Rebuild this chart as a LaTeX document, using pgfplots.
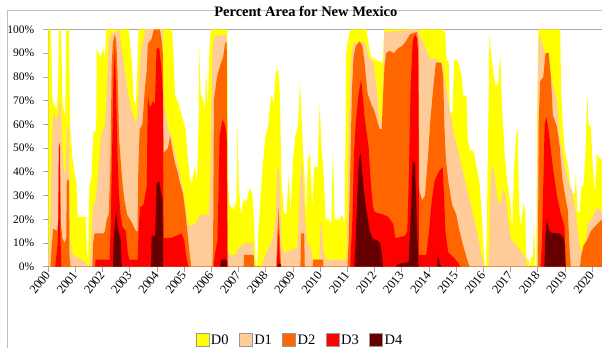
\documentclass[border=0pt]{standalone}
\usepackage{fontspec}
\setmainfont{Liberation Serif}
\usepackage{pgfplots}
\pgfplotsset{compat=1.18}
\definecolor{dzero}{HTML}{FFFF00}
\definecolor{done}{HTML}{FFCC99}
\definecolor{dtwo}{HTML}{FF6600}
\definecolor{dthree}{HTML}{FF0000}
\definecolor{dfour}{HTML}{660000}
\definecolor{framegray}{HTML}{BFBFBF}
\definecolor{axgray}{HTML}{A6A6A6}
\begin{document}
\begin{tikzpicture}
\useasboundingbox (0pt,0pt) rectangle (602pt,348pt);
\clip (0pt,0pt) rectangle (602pt,348pt);
\draw[framegray, line width=0.8pt] (7pt,0pt) -- (7pt,338pt) -- (605pt,338pt);
\begin{axis}[
  at={(48.3pt,81.3pt)}, anchor=south west,
  scale only axis, width=556.2pt, height=237.2pt,
  xmin=2000, xmax=2020.45, ymin=0, ymax=100,
  axis line style={axgray, line width=0.8pt},
  tick style={axgray, line width=0.8pt},
  tick align=outside, major tick length=5pt,
  xtick pos=bottom, ytick pos=left,
  xtick={2000,2001,...,2020},
  ytick={0,10,...,100},
  /pgf/number format/assume math mode=true,
  /pgf/number format/1000 sep={},
  xticklabel={\pgfmathprintnumber{\tick}},
  yticklabel={\pgfmathprintnumber{\tick}\%},
  yticklabel style={font=\fontsize{11.5}{11.5}\selectfont, inner sep=1pt, xshift=-8pt},
  xticklabel style={font=\fontsize{12.5}{12.5}\selectfont, rotate=52, anchor=east, inner sep=1pt},
  title={Percent Area for New Mexico},
  title style={at={(0.463,1)}, anchor=center, yshift=12.5pt, font=\bfseries\fontsize{14.5}{14.5}\selectfont},
  legend columns=5,
  legend style={at={(0.452,-0.310)}, anchor=center, draw=none, fill=none,
    font=\fontsize{14.5}{14.5}\selectfont,
    /tikz/every even column/.append style={column sep=9pt},
    nodes={inner xsep=1.5pt, inner ysep=0pt}},
  legend image code/.code={\draw[#1, draw=gray!80, line width=0.7pt] (0pt,-6.5pt) rectangle (13pt,6.5pt);},
]
\addplot[fill=dzero, draw=none] coordinates {
(2000.00,100)(2000.10,100)(2000.15,70)(2000.30,66)(2000.36,75)(2000.39,100)(2000.47,100)(2000.52,70)(2000.62,62)(2000.66,100)(2000.76,100)(2000.80,60)(2000.88,47)(2000.96,40)(2001.04,34)(2001.08,21)(2001.38,21)(2001.42,6)(2001.47,4)(2001.51,34)(2001.58,37)(2001.66,57)(2001.76,57)(2001.78,92)(2001.85,90)(2001.93,88)(2002.00,92)(2002.08,88)(2002.13,100)(2002.95,100)(2003.00,95)(2003.08,85)(2003.14,70)(2003.22,68)(2003.28,85)(2003.32,100)(2004.55,100)(2004.60,90)(2004.66,72)(2004.75,70)(2004.85,66)(2004.95,62)(2005.05,58)(2005.12,47)(2005.20,38)(2005.28,35)(2005.38,42)(2005.47,36)(2005.53,63)(2005.56,94)(2005.60,73)(2005.70,70)(2005.76,66)(2005.80,84)(2005.86,66)(2005.92,90)(2005.96,98)(2006.00,100)(2006.58,100)(2006.61,35)(2006.66,26)(2006.80,24)(2006.92,28)(2006.96,61)(2007.00,35)(2007.08,22)(2007.18,28)(2007.30,28)(2007.40,33)(2007.50,31)(2007.56,20)(2007.62,2)(2007.68,0)(2007.72,15)(2007.80,28)(2007.88,42)(2007.98,55)(2008.08,59)(2008.15,68)(2008.22,73)(2008.28,68)(2008.36,82)(2008.46,83)(2008.52,72)(2008.57,37)(2008.66,23)(2008.76,22)(2008.84,39)(2008.90,22)(2009.00,45)(2009.08,55)(2009.18,59)(2009.25,78)(2009.31,62)(2009.37,48)(2009.43,35)(2009.48,21)(2009.54,45)(2009.62,48)(2009.70,25)(2009.78,42)(2009.90,42)(2009.98,69)(2010.04,50)(2010.12,40)(2010.20,20)(2010.30,20)(2010.40,18)(2010.47,49)(2010.53,20)(2010.70,20)(2010.80,22)(2010.90,18)(2010.95,90)(2011.00,94)(2011.06,98)(2011.12,100)(2011.70,100)(2011.80,92)(2011.88,88)(2012.30,86)(2012.35,100)(2014.55,100)(2014.60,98)(2014.64,87)(2014.72,87)(2014.76,65)(2014.86,65)(2014.92,87)(2015.05,87)(2015.12,84)(2015.20,80)(2015.26,72)(2015.38,72)(2015.42,54)(2015.50,49)(2015.60,49)(2015.67,47)(2015.76,41)(2015.86,35)(2015.93,23)(2015.99,10)(2016.05,0)(2016.10,0)(2016.16,45)(2016.22,98)(2016.28,90)(2016.36,82)(2016.45,76)(2016.55,78)(2016.62,90)(2016.68,68)(2016.78,48)(2016.88,35)(2016.98,28)(2017.06,15)(2017.12,40)(2017.20,55)(2017.26,58)(2017.31,23)(2017.38,17)(2017.47,27)(2017.54,23)(2017.57,3)(2017.64,4)(2017.70,0)(2017.76,4)(2017.82,4)(2017.86,21)(2017.90,0)(2017.94,0)(2017.98,70)(2018.02,100)(2018.82,100)(2018.86,73)(2018.92,59)(2019.00,48)(2019.12,42)(2019.22,31)(2019.36,31)(2019.40,40)(2019.46,23)(2019.54,23)(2019.60,34)(2019.68,34)(2019.74,45)(2019.82,72)(2019.87,60)(2019.95,59)(2020.02,42)(2020.10,31)(2020.17,48)(2020.24,46)(2020.36,45)
} \closedcycle;
\addlegendentry{D0}
\addplot[fill=done, draw=none] coordinates {
(2000.00,0)(2000.06,12)(2000.12,45)(2000.18,65)(2000.30,62)(2000.36,64)(2000.40,70)(2000.46,68)(2000.52,50)(2000.58,40)(2000.64,40)(2000.68,58)(2000.75,60)(2000.79,15)(2000.84,6)(2001.05,4)(2001.38,2)(2001.42,0)(2001.50,0)(2001.56,6)(2001.64,25)(2001.74,28)(2001.80,35)(2001.87,45)(2001.94,55)(2002.02,58)(2002.08,60)(2002.15,75)(2002.22,95)(2002.30,98)(2002.60,100)(2002.66,95)(2002.75,88)(2002.85,80)(2002.95,72)(2003.05,66)(2003.15,63)(2003.22,60)(2003.28,65)(2003.32,75)(2003.40,90)(2003.52,97)(2003.58,100)(2004.21,100)(2004.24,70)(2004.32,64)(2004.42,58)(2004.52,55)(2004.62,50)(2004.72,45)(2004.82,40)(2004.92,34)(2005.02,28)(2005.10,20)(2005.18,17)(2005.40,18)(2005.50,20)(2005.60,22)(2005.90,22)(2005.96,40)(2006.00,70)(2006.04,92)(2006.10,97)(2006.55,98)(2006.59,8)(2006.66,5)(2006.90,5)(2007.00,8)(2007.15,9)(2007.22,10)(2007.52,10)(2007.58,2)(2007.62,0)(2007.85,0)(2007.95,4)(2008.10,8)(2008.25,12)(2008.35,20)(2008.42,40)(2008.48,42)(2008.53,28)(2008.58,8)(2008.70,6)(2009.15,8)(2009.22,25)(2009.28,40)(2009.33,45)(2009.40,30)(2009.46,18)(2009.52,10)(2009.66,8)(2009.72,3)(2009.96,3)(2010.00,15)(2010.05,20)(2010.10,8)(2010.20,3)(2010.95,3)(2010.98,10)(2011.02,30)(2011.06,60)(2011.10,80)(2011.16,90)(2011.22,94)(2011.60,95)(2011.70,92)(2011.80,88)(2011.95,86)(2012.05,78)(2012.12,70)(2012.18,60)(2012.25,62)(2012.30,70)(2012.35,99)(2013.62,100)(2013.66,97)(2013.80,94)(2013.95,90)(2014.05,87)(2014.20,88)(2014.40,86)(2014.52,85)(2014.56,80)(2014.62,76)(2014.70,70)(2014.80,64)(2014.95,54)(2015.05,50)(2015.20,42)(2015.35,35)(2015.50,28)(2015.65,20)(2015.80,13)(2015.92,5)(2016.00,2)(2016.04,0)(2016.18,0)(2016.22,10)(2016.28,40)(2016.36,43)(2016.44,36)(2016.52,28)(2016.62,26)(2016.72,33)(2016.82,30)(2016.92,18)(2017.00,12)(2017.20,9)(2017.40,6)(2017.54,4)(2017.60,0)(2017.96,0)(2018.00,80)(2018.04,98)(2018.10,96)(2018.22,92)(2018.34,84)(2018.50,79)(2018.64,73)(2018.72,68)(2018.80,55)(2018.90,48)(2019.00,42)(2019.12,36)(2019.26,32)(2019.38,24)(2019.48,14)(2019.56,8)(2019.62,4)(2019.72,3)(2019.78,12)(2019.84,18)(2019.95,20)(2020.05,22)(2020.20,25)(2020.36,23)
} \closedcycle;
\addlegendentry{D1}
\addplot[fill=dtwo, draw=none] coordinates {
(2000.00,0)(2000.08,0)(2000.12,8)(2000.18,16)(2000.32,15)(2000.38,20)(2000.40,52)(2000.43,52)(2000.46,18)(2000.52,12)(2000.60,10)(2000.66,12)(2000.68,36)(2000.76,37)(2000.78,4)(2000.82,0)(2001.62,0)(2001.65,10)(2001.70,14)(2002.02,14)(2002.08,15)(2002.15,20)(2002.22,22)(2002.28,40)(2002.33,85)(2002.38,95)(2002.45,98)(2002.50,95)(2002.55,80)(2002.60,55)(2002.66,45)(2002.72,36)(2002.80,28)(2002.90,22)(2003.00,20)(2003.10,18)(2003.22,15)(2003.28,15)(2003.31,42)(2003.36,58)(2003.46,60)(2003.55,75)(2003.62,83)(2003.66,94)(2003.80,96)(2003.88,100)(2004.10,100)(2004.16,96)(2004.21,90)(2004.24,48)(2004.40,50)(2004.48,55)(2004.55,50)(2004.65,44)(2004.75,40)(2004.85,35)(2004.95,31)(2005.05,22)(2005.12,14)(2005.20,5)(2005.26,0)(2006.03,0)(2006.06,10)(2006.09,70)(2006.20,80)(2006.32,85)(2006.42,88)(2006.50,94)(2006.56,95)(2006.59,2)(2006.62,0)(2007.18,0)(2007.20,5)(2007.55,5)(2007.57,0)(2008.38,0)(2008.42,14)(2008.47,25)(2008.52,10)(2008.56,0)(2009.27,0)(2009.29,14)(2009.41,14)(2009.43,0)(2009.72,0)(2009.74,3)(2010.10,3)(2010.12,0)(2011.00,0)(2011.04,10)(2011.10,40)(2011.16,73)(2011.22,88)(2011.30,93)(2011.45,95)(2011.55,93)(2011.62,87)(2011.68,80)(2011.74,73)(2011.86,69)(2011.98,66)(2012.08,62)(2012.18,58)(2012.26,58)(2012.32,75)(2012.36,84)(2012.42,90)(2012.55,91)(2012.70,90)(2012.85,92)(2013.00,93)(2013.15,95)(2013.30,98)(2013.55,99)(2013.61,95)(2013.64,32)(2013.75,28)(2013.85,30)(2013.95,45)(2014.05,62)(2014.15,75)(2014.25,86)(2014.45,86)(2014.52,80)(2014.56,60)(2014.62,45)(2014.72,35)(2014.85,26)(2015.00,22)(2015.10,16)(2015.25,9)(2015.35,5)(2015.45,1)(2015.50,0)(2018.00,0)(2018.03,60)(2018.08,78)(2018.20,80)(2018.28,90)(2018.40,90)(2018.48,80)(2018.55,64)(2018.70,59)(2018.80,51)(2018.90,37)(2019.00,30)(2019.10,24)(2019.17,6)(2019.21,0)(2019.55,0)(2019.60,5)(2019.68,9)(2019.80,11)(2019.95,15)(2020.10,17)(2020.36,20)
} \closedcycle;
\addlegendentry{D2}
\addplot[fill=dthree, draw=none] coordinates {
(2000.00,0)(2000.26,0)(2000.30,5)(2000.36,12)(2000.39,51)(2000.42,51)(2000.45,12)(2000.48,0)(2001.72,0)(2001.74,3)(2002.25,3)(2002.30,20)(2002.34,45)(2002.40,82)(2002.45,93)(2002.50,70)(2002.55,45)(2002.60,30)(2002.66,22)(2002.72,17)(2002.85,15)(2002.92,6)(2002.98,3)(2003.28,3)(2003.32,15)(2003.37,25)(2003.50,26)(2003.62,34)(2003.66,72)(2003.74,67)(2003.86,70)(2003.92,68)(2003.98,92)(2004.08,92)(2004.16,84)(2004.21,73)(2004.24,12)(2004.50,12)(2004.70,13)(2004.90,14)(2005.00,11)(2005.06,5)(2005.15,0)(2006.08,0)(2006.12,5)(2006.22,11)(2006.30,55)(2006.40,62)(2006.50,60)(2006.56,55)(2006.59,0)(2008.40,0)(2008.43,8)(2008.47,15)(2008.51,3)(2008.54,0)(2011.10,0)(2011.18,20)(2011.24,48)(2011.30,60)(2011.40,72)(2011.50,79)(2011.56,72)(2011.62,64)(2011.70,57)(2011.78,50)(2011.86,35)(2011.94,25)(2012.00,23)(2012.30,22)(2012.50,21)(2012.68,18)(2012.76,12)(2013.10,13)(2013.20,15)(2013.26,40)(2013.32,76)(2013.40,95)(2013.48,98)(2013.55,96)(2013.60,90)(2013.63,5)(2013.90,5)(2014.00,15)(2014.10,28)(2014.20,36)(2014.35,40)(2014.50,42)(2014.55,30)(2014.60,15)(2014.70,6)(2014.90,4)(2015.05,2)(2015.15,0)(2018.10,0)(2018.15,10)(2018.25,60)(2018.32,63)(2018.42,55)(2018.55,42)(2018.70,30)(2018.85,22)(2018.98,17)(2019.02,0)(2020.36,0)
} \closedcycle;
\addlegendentry{D3}
\addplot[fill=dfour, draw=none] coordinates {
(2000.00,0)(2002.38,0)(2002.40,11)(2002.45,18)(2002.50,24)(2002.55,17)(2002.60,14)(2002.66,12)(2002.70,0)(2003.78,0)(2003.80,13)(2003.93,13)(2003.98,35)(2004.08,36)(2004.15,31)(2004.20,28)(2004.22,0)(2006.33,0)(2006.35,3)(2006.55,3)(2006.57,0)(2008.42,0)(2008.43,1)(2008.55,1)(2008.56,0)(2011.25,0)(2011.30,10)(2011.36,30)(2011.42,45)(2011.48,48)(2011.54,40)(2011.62,30)(2011.72,22)(2011.82,15)(2011.92,12)(2012.10,11)(2012.20,10)(2012.26,6)(2012.30,0)(2012.80,0)(2012.82,1)(2013.25,2)(2013.32,20)(2013.40,44)(2013.48,44)(2013.55,20)(2013.60,3)(2013.62,0)(2014.30,0)(2014.32,5)(2014.40,1)(2014.45,0)(2018.24,0)(2018.27,12)(2018.33,20)(2018.42,15)(2018.60,14)(2018.80,14)(2018.95,12)(2019.00,8)(2019.02,0)(2020.36,0)
} \closedcycle;
\addlegendentry{D4}
\end{axis}
\end{tikzpicture}
\end{document}
